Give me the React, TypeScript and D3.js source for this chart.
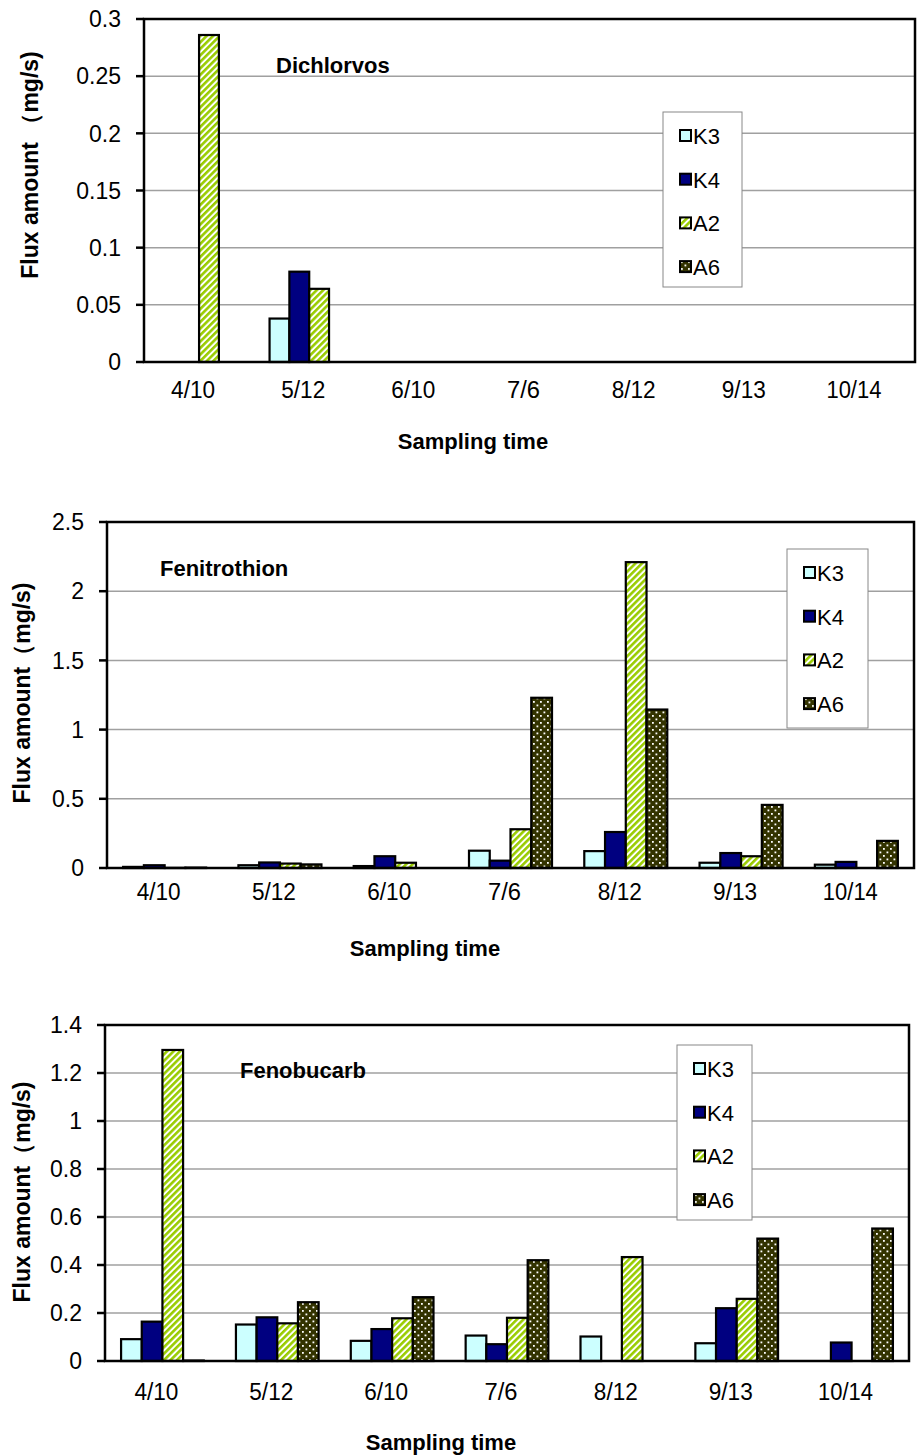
import React, { useRef, useEffect } from 'react';
import * as d3 from 'd3';

const dates = ['4/10', '5/12', '6/10', '7/6', '8/12', '9/13', '10/14'];
const seriesNames = ['K3', 'K4', 'A2', 'A6'];

// Dichlorvos
const dichK3 = [0, 0.038, 0, 0, 0, 0, 0];
const dichK4 = [0, 0.079, 0, 0, 0, 0, 0];
const dichA2 = [0.286, 0.064, 0, 0, 0, 0, 0];
const dichA6 = [0, 0, 0, 0, 0, 0, 0];
const dichTicks = [0, 0.05, 0.1, 0.15, 0.2, 0.25, 0.3];

// Fenitrothion
const feniK3 = [0.008, 0.02, 0.014, 0.125, 0.122, 0.038, 0.024];
const feniK4 = [0.02, 0.04, 0.085, 0.053, 0.26, 0.108, 0.044];
const feniA2 = [0.001, 0.032, 0.038, 0.28, 2.21, 0.085, 0];
const feniA6 = [0.003, 0.026, 0, 1.23, 1.145, 0.456, 0.196];
const feniTicks = [0, 0.5, 1, 1.5, 2, 2.5];

// Fenobucarb
const fenoK3 = [0.091, 0.152, 0.084, 0.106, 0.102, 0.074, 0];
const fenoK4 = [0.164, 0.182, 0.133, 0.07, 0, 0.22, 0.077];
const fenoA2 = [1.296, 0.157, 0.178, 0.18, 0.433, 0.259, 0];
const fenoA6 = [0.002, 0.245, 0.266, 0.42, 0, 0.51, 0.552];
const fenoTicks = [0, 0.2, 0.4, 0.6, 0.8, 1, 1.2, 1.4];

const FONT = "'Liberation Sans', Arial, sans-serif";
const fills: Record<string, string> = {
    K3: '#ccffff',
    K4: '#000080',
    A2: 'url(#stripeA2)',
    A6: 'url(#dotA6)',
};

type ChartCfg = {
    title: string;
    series: number[][];
    ticks: number[];
    left: number;
    right: number;
    top: number;
    bottom: number;
    titleX: number;
    titleY: number;
    legend: [number, number, number, number];
    yTitleX: number;
    yTitleY: number;
    xTitleX: number;
    xTitleY: number;
    tickLabelY: number;
    yLabelX: number;
    yTitle: string;
};

const charts: ChartCfg[] = [
    {
        title: 'Dichlorvos', series: [dichK3, dichK4, dichA2, dichA6], ticks: dichTicks,
        left: 144, right: 915, top: 19, bottom: 362,
        titleX: 276, titleY: 65, legend: [663, 112, 79, 175],
        yTitleX: 30, yTitleY: 165, xTitleX: 473, xTitleY: 441, tickLabelY: 398, yLabelX: 121,
        yTitle: 'Flux amount （mg/s)',
    },
    {
        title: 'Fenitrothion', series: [feniK3, feniK4, feniA2, feniA6], ticks: feniTicks,
        left: 107, right: 914, top: 522, bottom: 868,
        titleX: 160, titleY: 568, legend: [787, 549, 81, 179],
        yTitleX: 22, yTitleY: 693, xTitleX: 425, xTitleY: 948, tickLabelY: 900, yLabelX: 84,
        yTitle: 'Flux amount（mg/s)',
    },
    {
        title: 'Fenobucarb', series: [fenoK3, fenoK4, fenoA2, fenoA6], ticks: fenoTicks,
        left: 105, right: 909, top: 1025, bottom: 1361,
        titleX: 240, titleY: 1070, legend: [677, 1045, 75, 175],
        yTitleX: 22, yTitleY: 1192, xTitleX: 441, xTitleY: 1442, tickLabelY: 1400, yLabelX: 82,
        yTitle: 'Flux amount（mg/s)',
    },
];

const App: React.FC = () => {
    const ref = useRef<SVGSVGElement | null>(null);

    useEffect(() => {
        const svg = d3.select(ref.current);
        svg.selectAll('*').remove();

        const defs = svg.append('defs');
        const stripe = defs.append('pattern')
            .attr('id', 'stripeA2')
            .attr('patternUnits', 'userSpaceOnUse')
            .attr('width', 4.6)
            .attr('height', 4.6)
            .attr('patternTransform', 'rotate(45)');
        stripe.append('rect').attr('width', 4.6).attr('height', 4.6).attr('fill', '#ffffff');
        stripe.append('rect').attr('width', 2.6).attr('height', 4.6).attr('fill', '#99cc00');

        const dots = defs.append('pattern')
            .attr('id', 'dotA6')
            .attr('patternUnits', 'userSpaceOnUse')
            .attr('width', 7)
            .attr('height', 7);
        dots.append('rect').attr('width', 7).attr('height', 7).attr('fill', '#333300');
        dots.append('rect').attr('x', 1).attr('y', 1).attr('width', 1.8).attr('height', 1.8).attr('fill', '#ffffff');
        dots.append('rect').attr('x', 4.5).attr('y', 4.5).attr('width', 1.8).attr('height', 1.8).attr('fill', '#ffffff');

        charts.forEach((c) => {
            const g = svg.append('g');
            const yMax = c.ticks[c.ticks.length - 1];
            const y = d3.scaleLinear().domain([0, yMax]).range([c.bottom, c.top]);
            const x0 = d3.scaleBand<string>().domain(dates).range([c.left, c.right]);
            const bw = x0.bandwidth();
            const groupW = bw * 0.72;
            const x1 = d3.scaleBand<string>().domain(seriesNames)
                .range([(bw - groupW) / 2, (bw + groupW) / 2]);

            // gridlines
            g.selectAll('line.grid')
                .data(c.ticks.slice(1, -1))
                .enter()
                .append('line')
                .attr('x1', c.left)
                .attr('x2', c.right)
                .attr('y1', (d) => y(d))
                .attr('y2', (d) => y(d))
                .attr('stroke', '#a0a0a0')
                .attr('stroke-width', 1.5);

            // bars
            seriesNames.forEach((s, si) => {
                g.selectAll(`rect.bar-${s}`)
                    .data(c.series[si])
                    .enter()
                    .append('rect')
                    .attr('x', (_d, i) => (x0(dates[i]) as number) + (x1(s) as number))
                    .attr('y', (d) => y(d))
                    .attr('width', x1.bandwidth())
                    .attr('height', (d) => c.bottom - y(d))
                    .attr('fill', fills[s])
                    .attr('stroke', '#000')
                    .attr('stroke-width', 2.2);
            });

            // plot frame
            g.append('rect')
                .attr('x', c.left)
                .attr('y', c.top)
                .attr('width', c.right - c.left)
                .attr('height', c.bottom - c.top)
                .attr('fill', 'none')
                .attr('stroke', '#000')
                .attr('stroke-width', 2.5);

            // y ticks and labels
            g.selectAll('line.ytick')
                .data(c.ticks)
                .enter()
                .append('line')
                .attr('x1', c.left - 8)
                .attr('x2', c.left)
                .attr('y1', (d) => y(d))
                .attr('y2', (d) => y(d))
                .attr('stroke', '#000')
                .attr('stroke-width', 2.5);

            g.selectAll('text.ylab')
                .data(c.ticks)
                .enter()
                .append('text')
                .attr('x', c.yLabelX)
                .attr('y', (d) => y(d))
                .attr('dy', '0.36em')
                .attr('text-anchor', 'end')
                .style('font-family', FONT)
                .style('font-size', '23px')
                .text((d) => d3.format('~g')(d));

            // x labels
            g.selectAll('text.xlab')
                .data(dates)
                .enter()
                .append('text')
                .attr('x', (d) => (x0(d) as number) + bw / 2 - 6)
                .attr('y', c.tickLabelY)
                .attr('text-anchor', 'middle')
                .style('font-family', FONT)
                .style('font-size', '23px')
                .attr('textLength', (d) => d.length * 11)
                .attr('lengthAdjust', 'spacingAndGlyphs')
                .text((d) => d);

            // chart title
            g.append('text')
                .attr('x', c.titleX)
                .attr('y', c.titleY)
                .attr('dy', '0.36em')
                .style('font-family', FONT)
                .style('font-size', '22px')
                .style('font-weight', 'bold')
                .text(c.title);

            // axis titles
            g.append('text')
                .attr('transform', `translate(${c.yTitleX},${c.yTitleY}) rotate(-90)`)
                .attr('text-anchor', 'middle')
                .attr('dy', '0.36em')
                .style('font-family', FONT)
                .style('font-size', '23px')
                .style('font-weight', 'bold')
                .text(c.yTitle);

            g.append('text')
                .attr('x', c.xTitleX)
                .attr('y', c.xTitleY)
                .attr('dy', '0.36em')
                .attr('text-anchor', 'middle')
                .style('font-family', FONT)
                .style('font-size', '22px')
                .style('font-weight', 'bold')
                .text('Sampling time');

            // legend
            const [lx, ly, lw, lh] = c.legend;
            const lg = g.append('g');
            lg.append('rect')
                .attr('x', lx)
                .attr('y', ly)
                .attr('width', lw)
                .attr('height', lh)
                .attr('fill', '#fff')
                .attr('stroke', '#888')
                .attr('stroke-width', 1);
            const item = lg.selectAll('g.item')
                .data(seriesNames)
                .enter()
                .append('g')
                .attr('transform', (_d, i) => `translate(${lx + 17},${ly + 24 + i * 43.7})`);
            item.append('rect')
                .attr('x', 0)
                .attr('y', -6)
                .attr('width', 11)
                .attr('height', 11)
                .attr('fill', (d) => fills[d])
                .attr('stroke', '#000')
                .attr('stroke-width', 2);
            item.append('text')
                .attr('x', 13)
                .attr('y', 0)
                .attr('dy', '0.36em')
                .style('font-family', FONT)
                .style('font-size', '22px')
                .text((d) => d);
        });
    }, []);

    return (
        <svg
            ref={ref}
            width={917}
            height={1456}
            style={{ position: 'absolute', left: 0, top: 0, background: '#fff' }}
        />
    );
};

export default App;
